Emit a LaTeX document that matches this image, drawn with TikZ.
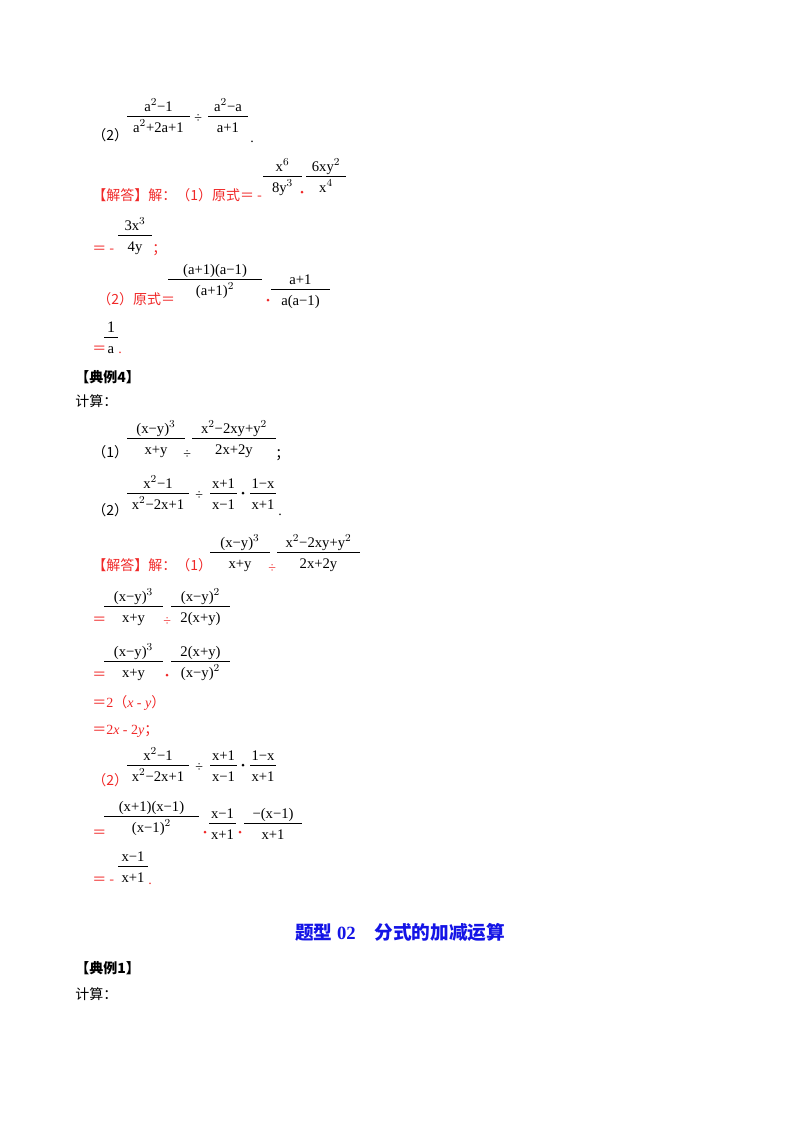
\documentclass[tikz,border=0pt]{standalone}
\usepackage{fontspec}
\setmainfont{Liberation Serif}
\newfontfamily\cjk{Noto Sans CJK SC}
\definecolor{rd}{RGB}{240,40,40}
\definecolor{bl}{RGB}{20,20,230}
\newcommand\fr[5]{\draw[line width=0.6pt] (#1,#2) -- ({#1+#3},#2);
 \node[anchor=base,inner sep=0,font=\fontsize{11}{12}\selectfont] at ({#1+#3/2},{#2-5}) {#4};
 \node[anchor=base,inner sep=0,font=\fontsize{11}{12}\selectfont] at ({#1+#3/2},{#2+16}) {#5};}
\newcommand\tx[4][black]{\node[anchor=base west,inner sep=0,text=#1] at (#2,#3) {#4};}
\newcommand\rdot[2]{\fill[rd] (#1,#2) circle (1.5);}
\newcommand\bdot[2]{\fill (#1,#2) circle (1.5);}
\begin{document}
\begin{tikzpicture}[x=0.75pt,y=-0.75pt,font=\fontsize{10.5}{12}\selectfont]
\useasboundingbox (0,0) rectangle (800,1132);
% line 1
\tx{92}{140}{\cjk （2）}
\fr{127}{116}{63}{a$^2$−1}{a$^2$+2a+1}
\tx{194}{122}{÷}
\fr{208}{116}{40}{a$^2$−a}{a+1}
\tx{250}{142}{.}
% solution 1
\tx[rd]{92}{200}{\cjk 【解答】解：（1）原式＝ -}
\fr{263}{176}{39}{x$^6$}{8y$^3$}
\rdot{302}{192}
\fr{306}{176}{40}{6xy$^2$}{x$^4$}
\tx[rd]{92}{253}{\cjk ＝ -}
\fr{118}{235}{34}{3x$^3$}{4y}
\tx[rd]{152}{253}{\cjk ；}
\tx[rd]{97}{304}{\cjk （2）原式＝}
\fr{168}{279}{94}{(a+1)(a−1)}{(a+1)$^2$}
\rdot{268}{300}
\fr{271}{289}{59}{a+1}{a(a−1)}
\tx[rd]{92}{353}{\cjk ＝}
\fr{104}{337}{14}{\large 1}{a}
\tx[rd]{118}{353}{.}
% example 4
\tx{75}{382}{\cjk\bfseries 【典例4】}
\tx{75}{406}{\cjk 计算：}
\tx{92}{457}{\cjk （1）}
\fr{127}{438}{58}{(x−y)$^3$}{x+y}
\tx{183}{458}{÷}
\fr{192}{438}{84}{x$^2$−2xy+y$^2$}{2x+2y}
\tx{275}{458}{\cjk ；}
\tx{92}{515}{\cjk （2）}
\fr{127}{493}{62}{x$^2$−1}{x$^2$−2x+1}
\tx{195}{499}{÷}
\fr{210}{493}{27}{x+1}{x−1}
\bdot{243}{493}
\fr{250}{493}{26}{1−x}{x+1}
\tx{278}{515}{.}
% solution
\tx[rd]{92}{570}{\cjk 【解答】解：（1）}
\fr{210}{552}{60}{(x−y)$^3$}{x+y}
\tx[rd]{268}{572}{÷}
\fr{277}{552}{83}{x$^2$−2xy+y$^2$}{2x+2y}
\tx[rd]{92}{624}{\cjk ＝}
\fr{104}{606}{59}{(x−y)$^3$}{x+y}
\tx[rd]{163}{625}{÷}
\fr{171}{606}{59}{(x−y)$^2$}{2(x+y)}
\tx[rd]{92}{679}{\cjk ＝}
\fr{104}{661}{59}{(x−y)$^3$}{x+y}
\rdot{167}{675}
\fr{171}{661}{59}{2(x+y)}{(x−y)$^2$}
\tx[rd]{92}{707}{\cjk ＝\rmfamily 2\cjk （\rmfamily\itshape x\upshape \ - \itshape y\upshape\cjk ）}
\tx[rd]{92}{734}{\cjk ＝\rmfamily 2\itshape x\upshape\ - 2\itshape y\upshape\cjk ；}
\tx[rd]{92}{785}{\cjk （2）}
\fr{127}{765}{62}{x$^2$−1}{x$^2$−2x+1}
\tx{195}{771}{÷}
\fr{210}{765}{27}{x+1}{x−1}
\bdot{243}{765}
\fr{250}{765}{26}{1−x}{x+1}
\tx[rd]{92}{837}{\cjk ＝}
\fr{104}{816}{95}{(x+1)(x−1)}{(x−1)$^2$}
\rdot{205}{832}
\fr{209}{823}{27}{x−1}{x+1}
\rdot{240}{832}
\fr{244}{823}{58}{−(x−1)}{x+1}
\tx[rd]{92}{884}{\cjk ＝ -}
\fr{118}{866}{30}{x−1}{x+1}
\tx[rd]{148}{884}{.}
% heading
\node[anchor=base,inner sep=0,text=bl,font=\fontsize{14}{16}\selectfont\cjk\bfseries] at (400,939) {题型\rmfamily\bfseries\ 02\cjk\bfseries 　分式的加减运算};
\tx{75}{973}{\cjk\bfseries 【典例1】}
\tx{75}{999}{\cjk 计算：}
\end{tikzpicture}
\end{document}
